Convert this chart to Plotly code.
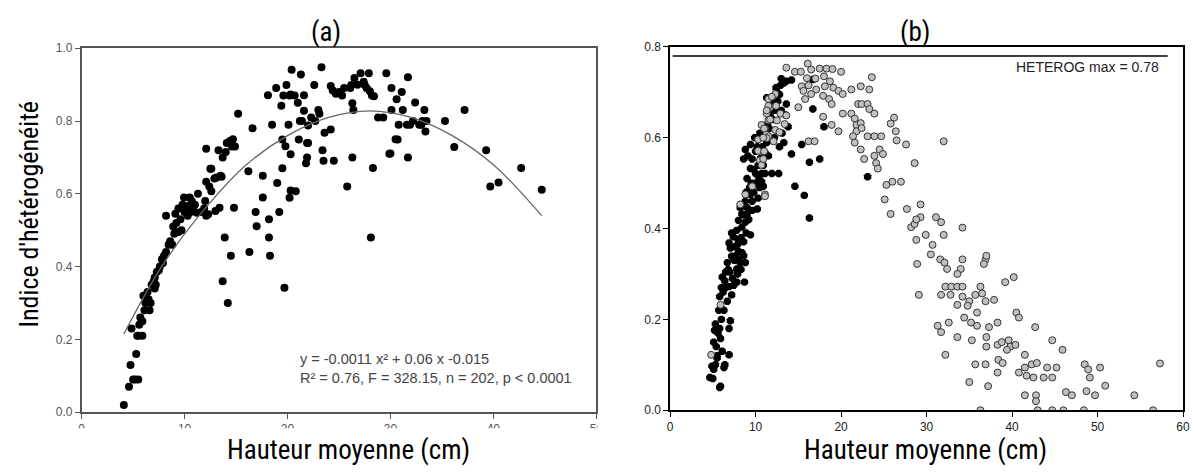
import plotly.graph_objects as go

# ---- panel (a): Indice d'hétérogénéité vs hauteur moyenne ----
a_x = [
    4.1, 4.6, 5.2, 5.5, 4.75, 5.3, 5.5, 5.9, 4.85, 5.7, 5.9, 6.6, 6.5, 6.0, 7.1, 6.8,
    7.1, 7.3, 7.6, 8.0, 8.45, 8.8, 9.4, 8.9, 9.6, 9.1, 8.2, 9.4, 9.95, 10.4, 10.7, 10.8,
    11.2, 12.1, 11.3, 12.1, 12.5, 12.1, 6.2, 6.4, 5.6, 7.0, 7.5, 7.8, 8.2, 9.0,
    9.7, 10.0, 10.3, 9.8, 10.6, 11.6, 11.9,
    15.2, 14.7, 14.9, 14.1, 13.3, 13.7, 14.0, 12.6, 13.6, 12.9, 12.6, 12.0, 13.4, 13.0,
    12.3, 14.8, 13.9, 14.5, 16.3, 13.7, 14.2, 16.9, 17.0, 18.2, 19.2, 18.2, 18.3, 19.7,
    17.6, 17.6, 16.2, 16.6, 19.0, 19.5, 20.3, 20.8, 20.2, 18.5, 20.1, 19.5, 19.8, 20.3,
    21.1, 21.9, 22.0, 21.9, 21.8, 21.2, 21.4, 22.0, 22.7, 23.1, 23.0, 23.4, 23.5, 24.5,
    23.6, 24.2, 26.3, 25.8, 21.6, 21.6, 20.3, 20.2, 19.4, 19.6, 19.9, 18.9, 18.1, 20.4,
    21.3, 22.6, 23.3, 24.2, 24.4, 24.7, 25.5, 26.2, 26.5, 26.3, 26.4,
    26.1, 27.1, 27.9, 27.4, 27.5, 28.0, 28.4, 28.8, 29.3, 29.6, 30.1, 30.6, 31.1, 31.7,
    30.1, 31.2, 32.4, 33.3, 30.8, 31.9, 32.8, 33.1, 33.5, 33.4, 30.7, 30.0, 31.7, 28.3,
    28.1, 35.3, 37.2, 36.2, 39.3, 39.7, 40.5, 42.7, 44.7,
    25.0, 25.3, 26.8, 27.7, 28.2, 22.3, 21.0, 20.7, 14.4, 14.6, 13.5, 13.1, 12.4, 11.0,
    10.5, 9.2, 8.6, 7.9, 7.2, 6.7, 6.1, 5.4, 5.0, 33.0, 32.2, 29.9, 31.6, 30.5,
]
a_y = [
    0.02, 0.07, 0.09, 0.09, 0.13, 0.16, 0.21, 0.21, 0.23, 0.26, 0.25, 0.28, 0.31, 0.32, 0.34, 0.35,
    0.37, 0.385, 0.40, 0.43, 0.46, 0.46, 0.495, 0.51, 0.53, 0.545, 0.54, 0.56, 0.59, 0.567, 0.58, 0.563,
    0.548, 0.54, 0.60, 0.633, 0.669, 0.724, 0.30, 0.33, 0.24, 0.36, 0.39, 0.42, 0.44, 0.49,
    0.50, 0.55, 0.54, 0.57, 0.55, 0.55, 0.56,
    0.82, 0.75, 0.73, 0.74, 0.72, 0.70, 0.715, 0.669, 0.647, 0.642, 0.607, 0.58, 0.562, 0.553,
    0.544, 0.562, 0.48, 0.43, 0.44, 0.36, 0.30, 0.55, 0.511, 0.53, 0.55, 0.48, 0.43, 0.342,
    0.59, 0.65, 0.662, 0.78, 0.63, 0.67, 0.609, 0.607, 0.589, 0.79, 0.79, 0.749, 0.731, 0.709,
    0.749, 0.74, 0.74, 0.70, 0.684, 0.80, 0.80, 0.788, 0.80, 0.82, 0.83, 0.72, 0.691, 0.691,
    0.768, 0.777, 0.70, 0.62, 0.828, 0.871, 0.873, 0.87, 0.842, 0.87, 0.899, 0.891, 0.871, 0.941,
    0.928, 0.899, 0.948, 0.896, 0.884, 0.875, 0.891, 0.899, 0.918, 0.849, 0.83,
    0.891, 0.931, 0.931, 0.908, 0.899, 0.882, 0.868, 0.81, 0.81, 0.931, 0.891, 0.86, 0.88, 0.92,
    0.83, 0.83, 0.851, 0.83, 0.79, 0.79, 0.79, 0.80, 0.80, 0.771, 0.749, 0.711, 0.70, 0.671,
    0.48, 0.80, 0.83, 0.729, 0.72, 0.62, 0.631, 0.671, 0.611,
    0.88, 0.87, 0.90, 0.89, 0.87, 0.81, 0.85, 0.87, 0.745, 0.73, 0.65, 0.645, 0.62, 0.57,
    0.59, 0.52, 0.47, 0.41, 0.35, 0.30, 0.28, 0.21, 0.09, 0.79, 0.80, 0.71, 0.79, 0.75,
]
# fitted curve
fit_x = [4.1, 8, 12, 16, 20, 24, 28, 32, 36, 40, 44.7]
fit_y = [0.215, 0.41, 0.56, 0.68, 0.76, 0.81, 0.828, 0.81, 0.76, 0.68, 0.54]

# ---- panel (b): two groups ----
blk_x = [
    4.65, 5.9, 5.8, 4.9, 5.1, 6.3, 6.4, 6.9, 5.5, 5.1, 5.4, 5.9, 5.2, 5.8, 5.3, 6.0, 7.05, 6.9,
    5.8, 6.2, 6.7, 7.2, 6.9, 6.5, 7.45, 7.8, 8.7, 6.1, 6.5, 7.0, 6.8, 7.8, 8.2, 6.7, 7.2, 7.7,
    8.8, 7.05, 7.6, 8.0, 8.4, 6.9, 7.4, 8.0, 8.6, 9.4, 7.2, 7.8, 8.4, 8.8, 8.0, 8.4, 9.0, 8.2,
    9.0, 8.8, 9.6, 9.4, 10.2, 10.3, 9.3, 10.0, 10.5, 10.7, 9.0, 10.0, 10.7, 9.4, 10.3, 8.6,
    9.6, 8.8, 11.1, 9.4, 10.8, 10.0, 9.9, 10.5,
    13.6, 13.3, 14.2, 12.9, 12.5, 11.3, 11.8, 13.6, 13.5, 13.8, 13.1, 13.3, 11.3, 11.5, 10.9,
    11.1, 11.9, 12.7, 10.9, 16.7, 16.7, 18.0, 15.4, 14.2, 16.3, 17.5, 14.6, 15.7, 16.3, 23.1,
    12.0, 12.3, 11.6, 12.2, 12.8, 11.7, 12.6, 13.0,
    7.3, 7.9, 8.3, 7.5, 8.0, 8.6, 7.9, 8.3, 8.9, 9.2, 8.6, 9.6, 9.8, 8.9, 9.5, 10.4, 9.8,
    10.6, 9.1, 10.2, 11.0, 11.4, 12.0, 12.4, 13.0, 12.8, 6.0, 6.4, 5.7, 6.3, 5.6, 5.5, 6.1,
    5.0, 5.3,
]
blk_y = [
    0.072, 0.053, 0.05, 0.097, 0.09, 0.094, 0.10, 0.122, 0.115, 0.15, 0.14, 0.158, 0.176, 0.18,
    0.19, 0.20, 0.197, 0.18, 0.25, 0.26, 0.24, 0.254, 0.272, 0.27, 0.275, 0.282, 0.282, 0.293,
    0.304, 0.304, 0.31, 0.311, 0.325, 0.325, 0.339, 0.34, 0.325, 0.357, 0.36, 0.35, 0.347, 0.368,
    0.382, 0.375, 0.371, 0.386, 0.39, 0.396, 0.403, 0.414, 0.418, 0.432, 0.432, 0.446, 0.446,
    0.46, 0.46, 0.475, 0.443, 0.467, 0.49, 0.50, 0.49, 0.503, 0.51, 0.521, 0.521, 0.532, 0.539,
    0.553, 0.553, 0.574, 0.567, 0.585, 0.58, 0.57, 0.60, 0.61,
    0.724, 0.72, 0.727, 0.715, 0.70, 0.688, 0.68, 0.674, 0.65, 0.624, 0.61, 0.589, 0.589, 0.56,
    0.539, 0.521, 0.521, 0.521, 0.493, 0.728, 0.663, 0.624, 0.585, 0.564, 0.546, 0.553, 0.493,
    0.473, 0.423, 0.514, 0.64, 0.66, 0.62, 0.60, 0.58, 0.65, 0.68, 0.66,
    0.29, 0.30, 0.31, 0.33, 0.33, 0.34, 0.365, 0.38, 0.39, 0.42, 0.43, 0.44, 0.48, 0.48, 0.50,
    0.51, 0.53, 0.555, 0.56, 0.58, 0.60, 0.63, 0.67, 0.71, 0.73, 0.695, 0.27, 0.285, 0.22,
    0.22, 0.17, 0.12, 0.13, 0.07, 0.10,
]
gry_x = [
    4.8, 5.9, 8.2, 8.8, 9.6, 11.1, 10.5, 10.7, 10.3, 10.3, 11.5, 11.1, 10.7, 11.5, 11.3, 11.7,
    11.5, 11.0,
    13.6, 14.6, 15.3, 16.1, 16.5, 17.5, 18.3, 19.0, 20.0, 23.6, 17.0, 16.0, 18.0, 15.4, 16.2,
    15.6, 17.1, 18.1, 18.7, 19.1, 19.7, 20.2, 21.2, 22.3, 23.3, 16.5, 17.9, 18.6, 18.9, 15.8,
    15.0, 12.3, 11.9, 11.5, 12.4, 12.9, 11.3, 11.7, 12.5, 13.6, 13.4, 11.0, 12.3, 12.8, 11.3,
    12.1, 10.9, 10.9, 11.1, 17.9, 18.9, 19.7, 16.2, 16.9, 20.2, 21.2, 21.6, 21.8, 22.3, 21.8,
    22.4, 22.0, 22.4, 23.1, 23.3, 23.9, 21.4, 21.6, 22.3, 22.7, 23.1, 23.9, 24.7, 24.5, 24.9,
    23.9, 24.1, 24.3, 26.2, 25.8, 26.4, 26.5, 27.6, 28.6, 25.3, 26.0, 27.0, 25.1, 25.8, 27.7,
    29.3, 28.2, 28.6, 28.8, 28.9, 29.1,
    32.0, 29.3, 28.8, 31.1, 31.7, 34.2, 29.9, 32.0, 30.7, 30.5, 31.6, 32.1, 32.4, 34.2, 34.0,
    33.6, 36.9, 36.7, 37.0, 40.2, 39.2, 32.2, 32.9, 33.6, 34.2, 31.7, 32.8, 34.2, 35.0, 35.7,
    36.3, 36.5, 36.9, 37.9, 33.6, 34.8, 35.9, 40.5, 40.8, 34.4, 35.2, 35.9, 37.3, 38.3, 31.3,
    31.7, 32.6, 33.6, 35.3, 37.0, 37.0, 38.3, 38.8, 39.6, 39.8, 39.4, 40.4, 38.4, 38.9, 32.2,
    35.7, 36.9, 38.3, 35.0, 37.2, 41.5, 42.7, 44.7, 45.9, 41.5, 41.7, 42.3, 42.9, 44.1, 45.2,
    40.8, 42.5, 43.7, 44.7, 48.5, 48.9, 49.1, 50.3, 50.9, 49.7, 48.7, 46.3, 47.0, 41.5, 42.8,
    42.8, 54.3, 57.3, 36.3, 43.0, 44.7, 46.0, 48.4, 56.5,
]
gry_y = [
    0.122, 0.232, 0.453, 0.475, 0.493, 0.475, 0.55, 0.54, 0.571, 0.596, 0.603, 0.62, 0.628,
    0.638, 0.653, 0.667, 0.685, 0.57,
    0.754, 0.745, 0.745, 0.763, 0.75, 0.752, 0.752, 0.751, 0.745, 0.733, 0.73, 0.731, 0.735,
    0.713, 0.715, 0.703, 0.706, 0.713, 0.724, 0.71, 0.703, 0.696, 0.706, 0.713, 0.706, 0.696,
    0.692, 0.685, 0.674, 0.685, 0.667, 0.696, 0.69, 0.67, 0.67, 0.653, 0.66, 0.64, 0.638,
    0.649, 0.63, 0.62, 0.617, 0.612, 0.599, 0.592, 0.60, 0.553, 0.471, 0.646, 0.628, 0.614,
    0.592, 0.592, 0.653, 0.653, 0.642, 0.628, 0.632, 0.614, 0.621, 0.674, 0.674, 0.674, 0.663,
    0.653, 0.603, 0.589, 0.574, 0.553, 0.603, 0.603, 0.603, 0.574, 0.564, 0.56, 0.544, 0.532,
    0.644, 0.631, 0.614, 0.594, 0.585, 0.544, 0.496, 0.503, 0.503, 0.464, 0.432, 0.443, 0.453,
    0.403, 0.41, 0.375, 0.322, 0.254,
    0.592, 0.425, 0.42, 0.425, 0.414, 0.402, 0.386, 0.386, 0.364, 0.343, 0.332, 0.325, 0.311,
    0.332, 0.311, 0.30, 0.332, 0.322, 0.34, 0.293, 0.282, 0.272, 0.272, 0.272, 0.272, 0.254,
    0.254, 0.25, 0.24, 0.254, 0.272, 0.257, 0.24, 0.243, 0.232, 0.23, 0.215, 0.215, 0.204,
    0.204, 0.193, 0.186, 0.183, 0.193, 0.186, 0.172, 0.193, 0.161, 0.154, 0.161, 0.14, 0.144,
    0.15, 0.154, 0.14, 0.133, 0.144, 0.111, 0.104, 0.122, 0.101, 0.101, 0.083, 0.062, 0.053,
    0.122, 0.183, 0.154, 0.133, 0.094, 0.076, 0.101, 0.104, 0.094, 0.094, 0.083, 0.072, 0.072,
    0.072, 0.101, 0.09, 0.072, 0.094, 0.054, 0.033, 0.042, 0.04, 0.033, 0.033, 0.033, 0.02,
    0.033, 0.103, 0.0, 0.0, 0.0, 0.0, 0.0, 0.0,
]
heterog_max = 0.78
hline_x = [0.3, 58.2]

W, H = 1196, 475


def fx(px):
    return px / W


def fy(py):
    return 1 - py / H


narrow = "Roboto Condensed, Liberation Sans Narrow, Liberation Sans, sans-serif"
plain = "Liberation Sans, Arial, sans-serif"

fig = go.Figure()

fig.add_trace(go.Scatter(
    x=a_x, y=a_y, mode="markers", xaxis="x", yaxis="y",
    marker=dict(size=8, color="black"), showlegend=False,
))
fig.add_trace(go.Scatter(
    x=fit_x, y=fit_y, mode="lines", xaxis="x", yaxis="y",
    line=dict(color="#666", width=1.3, shape="spline"), showlegend=False,
))

fig.add_trace(go.Scatter(
    x=hline_x, y=[heterog_max, heterog_max], mode="lines", xaxis="x2", yaxis="y2",
    line=dict(color="black", width=1.5), showlegend=False,
))
fig.add_trace(go.Scatter(
    x=blk_x, y=blk_y, mode="markers", xaxis="x2", yaxis="y2",
    marker=dict(size=8, color="black", symbol="octagon"), showlegend=False,
))
fig.add_trace(go.Scatter(
    x=gry_x, y=gry_y, mode="markers", xaxis="x2", yaxis="y2",
    marker=dict(size=7, color="#c0c0c0", line=dict(color="#333", width=1)),
    showlegend=False,
))

axis_a = dict(showline=True, mirror=True, linecolor="#555", linewidth=1.5,
              ticks="outside", ticklen=5, tickcolor="#555", showgrid=False,
              zeroline=False, tickfont=dict(family=plain, size=12, color="#555"))
axis_b = dict(showline=True, mirror=True, linecolor="black", linewidth=1.5,
              ticks="outside", ticklen=5, tickcolor="black", showgrid=False,
              zeroline=False, tickfont=dict(family=plain, size=12, color="#222"))

fig.update_layout(
    width=W, height=H,
    margin=dict(l=0, r=0, t=0, b=0),
    plot_bgcolor="white", paper_bgcolor="white",
    xaxis=dict(axis_a, domain=[fx(79.3), fx(598.3)], range=[0, 50], dtick=10, anchor="y"),
    yaxis=dict(axis_a, domain=[fy(417.5), fy(42.5)], range=[0, 1.0], dtick=0.2,
               tickformat=".1f", anchor="x"),
    xaxis2=dict(axis_b, domain=[fx(672.7), fx(1190)], range=[0, 60], dtick=10, anchor="y2"),
    yaxis2=dict(axis_b, domain=[fy(415.5), fy(41)], range=[0, 0.8], dtick=0.2,
                tickformat=".1f", anchor="x2"),
)

# the left panel was cropped in the source image: hide the cut parts of its labels
fig.add_shape(type="rect", xref="paper", yref="paper", layer="above",
              x0=fx(599.5), x1=fx(640), y0=fy(445), y1=fy(419),
              fillcolor="white", line_width=0)
fig.add_shape(type="rect", xref="paper", yref="paper", layer="above",
              x0=fx(60), x1=fx(640), y0=fy(441), y1=fy(434),
              fillcolor="white", line_width=0)

big = dict(family=narrow, size=27, color="black")
notes = [
    dict(x=fx(326), y=fy(26), text="(a)", font=big),
    dict(x=fx(920), y=fy(26), text="(b)", font=big),
    dict(x=fx(348), y=fy(456), text="Hauteur moyenne (cm)", font=big),
    dict(x=fx(930), y=fy(456), text="Hauteur moyenne (cm)", font=big),
    dict(x=fx(26), y=fy(213), text="Indice d'hétérogénéité",
         font=dict(big, size=26), textangle=-90),
    dict(x=fx(297), y=fy(372), xanchor="left",
         text="y = -0.0011 x² + 0.06 x -0.015<br>R² = 0.76, F = 328.15, n = 202, p &lt; 0.0001",
         align="left", font=dict(family=plain, size=14.5, color="#444")),
    dict(x=fx(1168), y=fy(62), xanchor="right", text="HETEROG max = 0.78",
         font=dict(family=plain, size=14, color="#222")),
]
for n in notes:
    n.setdefault("xanchor", "center")
    fig.add_annotation(xref="paper", yref="paper", yanchor="middle", showarrow=False, **n)

# browsers add an 8px body margin by default; remove it so the figure fills the window
fig.write_html("out.html", config={"displayModeBar": False},
               post_script="document.body.style.margin = '0';")
